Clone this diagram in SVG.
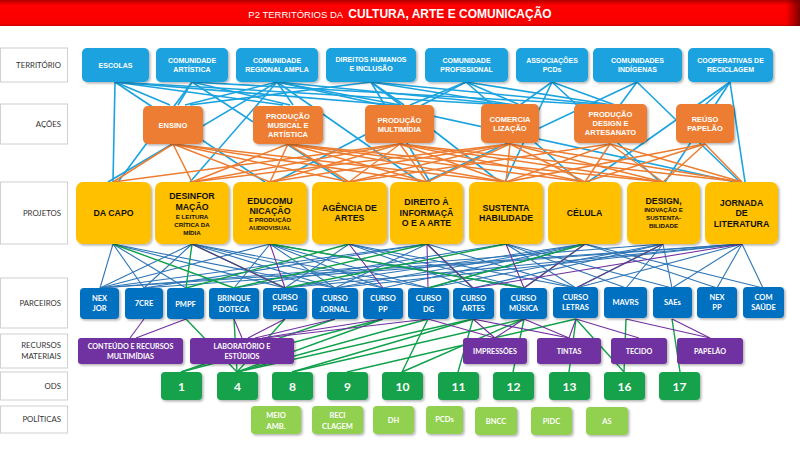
<svg xmlns="http://www.w3.org/2000/svg" width="800" height="450" viewBox="0 0 800 450">
<defs>
<linearGradient id="tg" x1="0" y1="0" x2="0" y2="1"><stop offset="0" stop-color="#b00000"/><stop offset="0.2" stop-color="#ff0000"/><stop offset="0.9" stop-color="#f80000"/><stop offset="1" stop-color="#d00000"/></linearGradient>
<linearGradient id="tr" x1="0" y1="0" x2="1" y2="0"><stop offset="0" stop-color="#600000" stop-opacity="0"/><stop offset="1" stop-color="#600000" stop-opacity="0.8"/></linearGradient>
<filter id="sh" x="-10%" y="-10%" width="125%" height="135%"><feDropShadow dx="1.5" dy="1.5" stdDeviation="1" flood-color="#000" flood-opacity="0.3"/></filter>
<style>
.lbl rect{fill:#fff;stroke:#d0d0d0;stroke-width:1}
.lbl text{font-family:Lato,"Liberation Sans",sans-serif;font-size:7.8px;fill:#333;text-anchor:end}
.t rect{fill:#1AA3DF;filter:url(#sh)}
.t text{font-family:"Liberation Sans",Arial,sans-serif;font-size:7px;font-weight:bold;fill:#fff;text-anchor:middle}
.a rect{fill:#ED7D31;filter:url(#sh)}
.a text{font-family:"Liberation Sans",Arial,sans-serif;font-size:7.5px;font-weight:bold;fill:#fff;text-anchor:middle}
.p rect{fill:#FFC000;filter:url(#sh)}
.p text{font-family:"Liberation Sans",Arial,sans-serif;font-size:8.8px;font-weight:bold;fill:#111;text-anchor:middle}
.p text.s{font-size:6.2px}
.pa rect{fill:#0070C0;filter:url(#sh)}
.pa text{font-family:Lato,"Liberation Sans",sans-serif;font-size:7.5px;font-weight:bold;fill:#fff;text-anchor:middle}
.r rect{fill:#7030A0;filter:url(#sh)}
.r text{font-family:Lato,"Liberation Sans",sans-serif;font-size:7.2px;font-weight:bold;fill:#fff;text-anchor:middle}
.o rect{fill:#12A24B;filter:url(#sh)}
.o text{font-family:Lato,"Liberation Sans",sans-serif;font-size:12px;font-weight:bold;fill:#fff;text-anchor:middle}
.pl rect{fill:#92D050;filter:url(#sh)}
.pl text{font-family:Lato,"Liberation Sans",sans-serif;font-size:7.5px;font-weight:bold;fill:#fff;text-anchor:middle}
.ct line{stroke:#1AA3DF;stroke-width:1.6}
.ca line{stroke:#ED7D31;stroke-width:1.5}
.cb line{stroke:#2E75B6;stroke-width:1.1}
.cg line{stroke:#0FA04A;stroke-width:1.4}
.cp line{stroke:#7030A0;stroke-width:1.1}
</style>
</defs>
<rect width="800" height="450" fill="#fff"/>
<g id="title">
<rect x="0" y="0" width="800" height="26" fill="url(#tg)"/>
<rect x="786" y="0" width="14" height="26" fill="url(#tr)"/>
<text x="400" y="17.5" text-anchor="middle" fill="#fff" font-family="'Liberation Sans',Arial,sans-serif"><tspan font-size="9.5">P2 TERRITÓRIOS DA </tspan><tspan font-size="12" font-weight="bold" dx="3">CULTURA, ARTE E COMUNICAÇÃO</tspan></text>
</g>
<g id="row-labels" class="lbl">
<rect x="0.5" y="48" width="67" height="34"/><text x="61" y="68">TERRITÓRIO</text>
<rect x="0.5" y="104" width="67" height="40"/><text x="61" y="127">AÇÕES</text>
<rect x="0.5" y="182" width="67" height="62"/><text x="61" y="216">PROJETOS</text>
<rect x="0.5" y="278" width="67" height="50"/><text x="61" y="306">PARCEIROS</text>
<rect x="0.5" y="334" width="67" height="34"/><text x="61" y="348">RECURSOS</text><text x="61" y="359">MATERIAIS</text>
<rect x="0.5" y="372" width="67" height="28"/><text x="61" y="389">ODS</text>
<rect x="0.5" y="406" width="67" height="27"/><text x="61" y="422">POLÍTICAS</text>
</g>
<g id="connectors">
<g class="ct">
<line x1="115" y1="82" x2="113" y2="182"/><line x1="115" y1="82" x2="170" y2="105"/><line x1="115" y1="82" x2="283" y2="105"/><line x1="115" y1="82" x2="395" y2="105"/><line x1="115" y1="82" x2="265" y2="182"/><line x1="115" y1="82" x2="505" y2="105"/>
<line x1="192" y1="82" x2="118" y2="182"/><line x1="192" y1="82" x2="178" y2="105"/><line x1="192" y1="82" x2="290" y2="105"/><line x1="192" y1="82" x2="345" y2="182"/><line x1="192" y1="82" x2="600" y2="105"/>
<line x1="277" y1="82" x2="108" y2="182"/><line x1="277" y1="82" x2="185" y2="105"/><line x1="277" y1="82" x2="293" y2="105"/><line x1="277" y1="82" x2="400" y2="105"/><line x1="277" y1="82" x2="512" y2="105"/><line x1="277" y1="82" x2="190" y2="182"/><line x1="277" y1="82" x2="420" y2="182"/><line x1="277" y1="82" x2="735" y2="182"/>
<line x1="371" y1="82" x2="190" y2="105"/><line x1="371" y1="82" x2="404" y2="105"/><line x1="371" y1="82" x2="515" y2="105"/><line x1="371" y1="82" x2="608" y2="105"/><line x1="371" y1="82" x2="430" y2="182"/><line x1="371" y1="82" x2="500" y2="182"/>
<line x1="466" y1="82" x2="410" y2="105"/><line x1="466" y1="82" x2="520" y2="105"/><line x1="466" y1="82" x2="612" y2="105"/><line x1="466" y1="82" x2="275" y2="182"/><line x1="466" y1="82" x2="580" y2="182"/>
<line x1="552" y1="82" x2="520" y2="105"/><line x1="552" y1="82" x2="615" y2="105"/><line x1="552" y1="82" x2="505" y2="182"/><line x1="552" y1="82" x2="660" y2="182"/>
<line x1="637" y1="82" x2="620" y2="105"/><line x1="637" y1="82" x2="740" y2="182"/><line x1="637" y1="82" x2="425" y2="182"/>
<line x1="730" y1="82" x2="705" y2="105"/><line x1="730" y1="82" x2="665" y2="182"/><line x1="730" y1="82" x2="588" y2="182"/><line x1="730" y1="82" x2="745" y2="182"/>
</g>
<g class="ca">
<line x1="173" y1="144" x2="113" y2="182"/><line x1="173" y1="144" x2="192" y2="182"/><line x1="173" y1="144" x2="270" y2="182"/><line x1="173" y1="144" x2="349" y2="182"/><line x1="173" y1="144" x2="427" y2="182"/><line x1="173" y1="144" x2="506" y2="182"/>
<line x1="288" y1="144" x2="192" y2="182"/><line x1="288" y1="144" x2="270" y2="182"/><line x1="288" y1="144" x2="349" y2="182"/><line x1="288" y1="144" x2="427" y2="182"/><line x1="288" y1="144" x2="506" y2="182"/><line x1="288" y1="144" x2="585" y2="182"/><line x1="288" y1="144" x2="663" y2="182"/>
<line x1="400" y1="144" x2="113" y2="182"/><line x1="400" y1="144" x2="192" y2="182"/><line x1="400" y1="144" x2="270" y2="182"/><line x1="400" y1="144" x2="349" y2="182"/><line x1="400" y1="144" x2="427" y2="182"/><line x1="400" y1="144" x2="506" y2="182"/><line x1="400" y1="144" x2="585" y2="182"/><line x1="400" y1="144" x2="663" y2="182"/><line x1="400" y1="144" x2="742" y2="182"/>
<line x1="510" y1="144" x2="192" y2="182"/><line x1="510" y1="144" x2="270" y2="182"/><line x1="510" y1="144" x2="349" y2="182"/><line x1="510" y1="144" x2="427" y2="182"/><line x1="510" y1="144" x2="506" y2="182"/><line x1="510" y1="144" x2="585" y2="182"/><line x1="510" y1="144" x2="663" y2="182"/><line x1="510" y1="144" x2="742" y2="182"/>
<line x1="610" y1="144" x2="349" y2="182"/><line x1="610" y1="144" x2="506" y2="182"/><line x1="610" y1="144" x2="585" y2="182"/><line x1="610" y1="144" x2="663" y2="182"/><line x1="610" y1="144" x2="742" y2="182"/>
<line x1="705" y1="144" x2="506" y2="182"/><line x1="705" y1="144" x2="585" y2="182"/><line x1="705" y1="144" x2="663" y2="182"/><line x1="705" y1="144" x2="742" y2="182"/>
</g>
<g class="cb">
<line x1="113" y1="244" x2="100" y2="288"/><line x1="113" y1="244" x2="144" y2="288"/><line x1="113" y1="244" x2="186" y2="288"/><line x1="113" y1="244" x2="285" y2="288"/><line x1="113" y1="244" x2="335" y2="288"/>
<line x1="192" y1="244" x2="100" y2="288"/><line x1="192" y1="244" x2="144" y2="288"/><line x1="192" y1="244" x2="335" y2="288"/><line x1="192" y1="244" x2="383" y2="288"/><line x1="192" y1="244" x2="428" y2="288"/>
<line x1="270" y1="244" x2="100" y2="288"/><line x1="270" y1="244" x2="234" y2="288"/><line x1="270" y1="244" x2="335" y2="288"/><line x1="270" y1="244" x2="383" y2="288"/><line x1="270" y1="244" x2="428" y2="288"/><line x1="270" y1="244" x2="524" y2="288"/>
<line x1="349" y1="244" x2="285" y2="288"/><line x1="349" y1="244" x2="473" y2="288"/><line x1="349" y1="244" x2="524" y2="288"/><line x1="349" y1="244" x2="576" y2="288"/>
<line x1="427" y1="244" x2="100" y2="288"/><line x1="427" y1="244" x2="144" y2="288"/><line x1="427" y1="244" x2="335" y2="288"/><line x1="427" y1="244" x2="576" y2="288"/>
<line x1="506" y1="244" x2="234" y2="288"/><line x1="506" y1="244" x2="576" y2="288"/><line x1="506" y1="244" x2="626" y2="288"/><line x1="506" y1="244" x2="672" y2="288"/>
<line x1="585" y1="244" x2="285" y2="288"/><line x1="585" y1="244" x2="335" y2="288"/><line x1="585" y1="244" x2="383" y2="288"/><line x1="585" y1="244" x2="428" y2="288"/><line x1="585" y1="244" x2="717" y2="288"/><line x1="585" y1="244" x2="763" y2="288"/>
<line x1="663" y1="244" x2="100" y2="288"/><line x1="663" y1="244" x2="428" y2="288"/><line x1="663" y1="244" x2="473" y2="288"/><line x1="663" y1="244" x2="626" y2="288"/><line x1="663" y1="244" x2="672" y2="288"/>
<line x1="742" y1="244" x2="100" y2="288"/><line x1="742" y1="244" x2="144" y2="288"/><line x1="742" y1="244" x2="285" y2="288"/><line x1="742" y1="244" x2="335" y2="288"/><line x1="742" y1="244" x2="576" y2="288"/><line x1="742" y1="244" x2="672" y2="288"/><line x1="742" y1="244" x2="717" y2="288"/><line x1="742" y1="244" x2="763" y2="288"/>
</g>
<g class="cg">
<line x1="113" y1="244" x2="234" y2="288"/><line x1="192" y1="244" x2="186" y2="288"/><line x1="192" y1="244" x2="285" y2="288"/><line x1="270" y1="244" x2="524" y2="288"/><line x1="349" y1="244" x2="186" y2="288"/><line x1="427" y1="244" x2="234" y2="288"/><line x1="427" y1="244" x2="473" y2="288"/><line x1="506" y1="244" x2="285" y2="288"/><line x1="585" y1="244" x2="428" y2="288"/><line x1="585" y1="244" x2="524" y2="288"/><line x1="663" y1="244" x2="576" y2="288"/>
<line x1="186" y1="319" x2="237" y2="372"/><line x1="234" y1="319" x2="237" y2="372"/><line x1="285" y1="319" x2="237" y2="372"/><line x1="383" y1="319" x2="237" y2="372"/><line x1="428" y1="319" x2="237" y2="372"/><line x1="473" y1="319" x2="237" y2="372"/>
<line x1="335" y1="319" x2="181" y2="372"/><line x1="383" y1="319" x2="181" y2="372"/>
<line x1="473" y1="319" x2="292" y2="372"/><line x1="524" y1="319" x2="292" y2="372"/><line x1="576" y1="319" x2="347" y2="372"/><line x1="428" y1="319" x2="402" y2="372"/><line x1="524" y1="319" x2="402" y2="372"/>
<line x1="473" y1="319" x2="458" y2="372"/><line x1="524" y1="319" x2="513" y2="372"/><line x1="576" y1="319" x2="569" y2="372"/><line x1="576" y1="319" x2="624" y2="372"/><line x1="626" y1="319" x2="624" y2="372"/><line x1="672" y1="319" x2="680" y2="372"/>
</g>
<g class="cp">
<line x1="192" y1="244" x2="285" y2="288"/><line x1="270" y1="244" x2="285" y2="288"/><line x1="349" y1="244" x2="383" y2="288"/><line x1="427" y1="244" x2="428" y2="288"/><line x1="427" y1="244" x2="473" y2="288"/><line x1="506" y1="244" x2="524" y2="288"/><line x1="585" y1="244" x2="524" y2="288"/><line x1="663" y1="244" x2="576" y2="288"/><line x1="742" y1="244" x2="473" y2="288"/>
<line x1="144" y1="319" x2="130" y2="338"/><line x1="186" y1="319" x2="136" y2="338"/><line x1="234" y1="319" x2="242" y2="338"/><line x1="285" y1="319" x2="248" y2="338"/><line x1="335" y1="319" x2="255" y2="338"/><line x1="383" y1="319" x2="262" y2="338"/><line x1="428" y1="319" x2="265" y2="338"/>
<line x1="428" y1="319" x2="495" y2="338"/><line x1="473" y1="319" x2="495" y2="338"/><line x1="524" y1="319" x2="495" y2="338"/><line x1="473" y1="319" x2="569" y2="338"/><line x1="524" y1="319" x2="569" y2="338"/><line x1="576" y1="319" x2="569" y2="338"/><line x1="576" y1="319" x2="639" y2="338"/><line x1="626" y1="319" x2="710" y2="338"/><line x1="672" y1="319" x2="710" y2="338"/>
</g>
</g>
<g id="territorio">
<g id="t-escolas" class="t"><rect x="82" y="48" width="67" height="34" rx="5"/><text x="115.5" y="68">ESCOLAS</text></g>
<g id="t-com-artistica" class="t"><rect x="156" y="48" width="72" height="34" rx="5"/><text x="192" y="63">COMUNIDADE</text><text x="192" y="72">ARTÍSTICA</text></g>
<g id="t-com-regional" class="t"><rect x="236" y="48" width="82" height="34" rx="5"/><text x="277" y="63">COMUNIDADE</text><text x="277" y="72" font-weight="normal">REGIONAL AMPLA</text></g>
<g id="t-direitos" class="t"><rect x="326" y="48" width="90" height="34" rx="5"/><text x="371" y="62">DIREITOS HUMANOS</text><text x="371" y="71">E INCLUSÃO</text></g>
<g id="t-com-prof" class="t"><rect x="425" y="48" width="83" height="34" rx="5"/><text x="466.5" y="63">COMUNIDADE</text><text x="466.5" y="72">PROFISSIONAL</text></g>
<g id="t-assoc" class="t"><rect x="516" y="48" width="72" height="34" rx="5"/><text x="552" y="63">ASSOCIAÇÕES</text><text x="552" y="72">PCDs</text></g>
<g id="t-indigenas" class="t"><rect x="593" y="48" width="89" height="34" rx="5"/><text x="637.5" y="63">COMUNIDADES</text><text x="637.5" y="72">INDÍGENAS</text></g>
<g id="t-coop" class="t"><rect x="688" y="48" width="85" height="34" rx="5"/><text x="730.5" y="63">COOPERATIVAS DE</text><text x="730.5" y="72">RECICLAGEM</text></g>
</g>
<g id="acoes">
<g id="a-ensino" class="a"><rect x="143" y="106" width="60" height="38" rx="5"/><text x="173" y="128">ENSINO</text></g>
<g id="a-prod-musical" class="a"><rect x="253" y="106" width="70" height="38" rx="5"/><text x="288" y="119">PRODUÇÃO</text><text x="288" y="128">MUSICAL E</text><text x="288" y="137">ARTÍSTICA</text></g>
<g id="a-prod-multimidia" class="a"><rect x="365" y="105" width="69" height="38" rx="5"/><text x="399.5" y="123">PRODUÇÃO</text><text x="399.5" y="132">MULTIMÍDIA</text></g>
<g id="a-comercializacao" class="a"><rect x="481" y="104" width="58" height="39" rx="5"/><text x="510" y="122">COMERCIA</text><text x="510" y="131">LIZAÇÃO</text></g>
<g id="a-prod-design" class="a"><rect x="574" y="104" width="73" height="39" rx="5"/><text x="610.5" y="117">PRODUÇÃO</text><text x="610.5" y="126">DESIGN E</text><text x="610.5" y="135">ARTESANATO</text></g>
<g id="a-reuso" class="a"><rect x="676" y="104" width="58" height="39" rx="5"/><text x="705" y="122">REÚSO</text><text x="705" y="131">PAPELÃO</text></g>
</g>
<g id="projetos">
<g id="p-dacapo" class="p"><rect x="76" y="182" width="75" height="62" rx="7"/><text x="113.5" y="216">DA CAPO</text></g>
<g id="p-desinformacao" class="p"><rect x="155" y="182" width="74" height="62" rx="7"/><text x="192" y="199">DESINFOR</text><text x="192" y="210">MAÇÃO</text><text class="s" x="192" y="219">E LEITURA</text><text class="s" x="192" y="227">CRÍTICA DA</text><text class="s" x="192" y="235">MÍDIA</text></g>
<g id="p-educomunicacao" class="p"><rect x="233" y="182" width="74" height="62" rx="7"/><text x="270" y="204">EDUCOMU</text><text x="270" y="214">NICAÇÃO</text><text class="s" x="270" y="222">E PRODUÇÃO</text><text class="s" x="270" y="230">AUDIOVISUAL</text></g>
<g id="p-agencia" class="p"><rect x="312" y="182" width="75" height="62" rx="7"/><text x="349.5" y="211">AGÊNCIA DE</text><text x="349.5" y="221">ARTES</text></g>
<g id="p-direito" class="p"><rect x="390" y="182" width="73" height="62" rx="7"/><text x="426.5" y="205">DIREITO À</text><text x="426.5" y="216">INFORMAÇÃ</text><text x="426.5" y="226">O E A ARTE</text></g>
<g id="p-sustentabilidade" class="p"><rect x="469" y="182" width="74" height="62" rx="7"/><text x="506" y="211">SUSTENTA</text><text x="506" y="221">HABILIDADE</text></g>
<g id="p-celula" class="p"><rect x="548" y="182" width="73" height="62" rx="7"/><text x="584.5" y="216">CÉLULA</text></g>
<g id="p-design" class="p"><rect x="627" y="182" width="73" height="62" rx="7"/><text x="663.5" y="204">DESIGN,</text><text class="s" x="663.5" y="212">INOVAÇÃO E</text><text class="s" x="663.5" y="220">SUSTENTA-</text><text class="s" x="663.5" y="228">BILIDADE</text></g>
<g id="p-jornada" class="p"><rect x="705" y="182" width="73" height="62" rx="7"/><text x="741.5" y="206">JORNADA</text><text x="741.5" y="216">DE</text><text x="741.5" y="227">LITERATURA</text></g>
</g>
<g id="parceiros">
<g id="pa-nexjor" class="pa"><rect x="80" y="288" width="39" height="31" rx="4"/><text x="99.5" y="301">NEX</text><text x="99.5" y="311">JOR</text></g>
<g id="pa-7cre" class="pa"><rect x="125" y="288" width="38" height="31" rx="4"/><text x="144" y="306">7CRE</text></g>
<g id="pa-pmpf" class="pa"><rect x="167" y="288" width="37" height="31" rx="4"/><text x="185.5" y="307">PMPF</text></g>
<g id="pa-brinquedoteca" class="pa"><rect x="209" y="288" width="50" height="31" rx="4"/><text x="234" y="301">BRINQUE</text><text x="234" y="312">DOTECA</text></g>
<g id="pa-curso-pedag" class="pa"><rect x="263" y="288" width="44" height="31" rx="4"/><text x="285" y="300">CURSO</text><text x="285" y="311">PEDAG</text></g>
<g id="pa-curso-jornal" class="pa"><rect x="312" y="288" width="46" height="31" rx="4"/><text x="335" y="301">CURSO</text><text x="335" y="312">JORNAL.</text></g>
<g id="pa-curso-pp" class="pa"><rect x="363" y="288" width="40" height="31" rx="4"/><text x="383" y="301">CURSO</text><text x="383" y="312">PP</text></g>
<g id="pa-curso-dg" class="pa"><rect x="408" y="288" width="41" height="31" rx="4"/><text x="428.5" y="301">CURSO</text><text x="428.5" y="312">DG</text></g>
<g id="pa-curso-artes" class="pa"><rect x="453" y="288" width="41" height="31" rx="4"/><text x="473.5" y="301">CURSO</text><text x="473.5" y="311">ARTES</text></g>
<g id="pa-curso-musica" class="pa"><rect x="500" y="288" width="47" height="31" rx="4"/><text x="523.5" y="301">CURSO</text><text x="523.5" y="311">MÚSICA</text></g>
<g id="pa-curso-letras" class="pa"><rect x="553" y="287" width="45" height="31" rx="4"/><text x="575.5" y="300">CURSO</text><text x="575.5" y="310">LETRAS</text></g>
<g id="pa-mavrs" class="pa"><rect x="604" y="287" width="43" height="31" rx="4"/><text x="625.5" y="305">MAVRS</text></g>
<g id="pa-saes" class="pa"><rect x="653" y="287" width="39" height="31" rx="4"/><text x="672.5" y="305">SAEs</text></g>
<g id="pa-nexpp" class="pa"><rect x="697" y="287" width="40" height="31" rx="4"/><text x="717" y="300">NEX</text><text x="717" y="310">PP</text></g>
<g id="pa-comsaude" class="pa"><rect x="743" y="287" width="41" height="31" rx="4"/><text x="763.5" y="300">COM</text><text x="763.5" y="310">SAÚDE</text></g>
</g>
<g id="recursos">
<g id="r-conteudo" class="r"><rect x="78" y="338" width="105" height="26" rx="3"/><text x="130.5" y="349">CONTEÚDO  E RECURSOS</text><text x="130.5" y="359">MULTIMÍDIAS</text></g>
<g id="r-laboratorio" class="r"><rect x="190" y="338" width="104" height="26" rx="3"/><text x="242" y="349">LABORATÓRIO E</text><text x="242" y="359">ESTÚDIOS</text></g>
<g id="r-impressoes" class="r"><rect x="463" y="338" width="64" height="26" rx="3"/><text x="495" y="354">IMPRESSÕES</text></g>
<g id="r-tintas" class="r"><rect x="537" y="338" width="64" height="26" rx="3"/><text x="569" y="354">TINTAS</text></g>
<g id="r-tecido" class="r"><rect x="611" y="338" width="56" height="26" rx="3"/><text x="639" y="354">TECIDO</text></g>
<g id="r-papelao" class="r"><rect x="677" y="338" width="66" height="26" rx="3"/><text x="710" y="354">PAPELÃO</text></g>
</g>
<g id="ods">
<g id="o-1" class="o"><rect x="161" y="372" width="41" height="28" rx="4"/><text x="181.5" y="391">1</text></g>
<g id="o-4" class="o"><rect x="217" y="372" width="41" height="28" rx="4"/><text x="237.5" y="391">4</text></g>
<g id="o-8" class="o"><rect x="272" y="372" width="41" height="28" rx="4"/><text x="292.5" y="391">8</text></g>
<g id="o-9" class="o"><rect x="327" y="372" width="41" height="28" rx="4"/><text x="347.5" y="391">9</text></g>
<g id="o-10" class="o"><rect x="382" y="372" width="41" height="28" rx="4"/><text x="402.5" y="391">10</text></g>
<g id="o-11" class="o"><rect x="438" y="372" width="41" height="28" rx="4"/><text x="458.5" y="391">11</text></g>
<g id="o-12" class="o"><rect x="493" y="372" width="41" height="28" rx="4"/><text x="513.5" y="391">12</text></g>
<g id="o-13" class="o"><rect x="549" y="372" width="41" height="28" rx="4"/><text x="569.5" y="391">13</text></g>
<g id="o-16" class="o"><rect x="604" y="372" width="41" height="28" rx="4"/><text x="624.5" y="391">16</text></g>
<g id="o-17" class="o"><rect x="659" y="372" width="41" height="28" rx="4"/><text x="679.5" y="391">17</text></g>
</g>
<g id="politicas">
<g id="pl-meio" class="pl"><rect x="251" y="406" width="50" height="28" rx="4"/><text x="276" y="418">MEIO</text><text x="276" y="429">AMB.</text></g>
<g id="pl-reciclagem" class="pl"><rect x="312" y="406" width="51" height="28" rx="4"/><text x="337.5" y="418">RECI</text><text x="337.5" y="429">CLAGEM</text></g>
<g id="pl-dh" class="pl"><rect x="373" y="406" width="41" height="28" rx="4"/><text x="393.5" y="423">DH</text></g>
<g id="pl-pcds" class="pl"><rect x="426" y="406" width="37" height="28" rx="4"/><text x="444.5" y="422">PCDs</text></g>
<g id="pl-bncc" class="pl"><rect x="475" y="407" width="42" height="28" rx="4"/><text x="496" y="424">BNCC</text></g>
<g id="pl-pidc" class="pl"><rect x="531" y="407" width="41" height="28" rx="4"/><text x="551.5" y="424">PIDC</text></g>
<g id="pl-as" class="pl"><rect x="586" y="407" width="42" height="28" rx="4"/><text x="607" y="424">AS</text></g>
</g>
</svg>
